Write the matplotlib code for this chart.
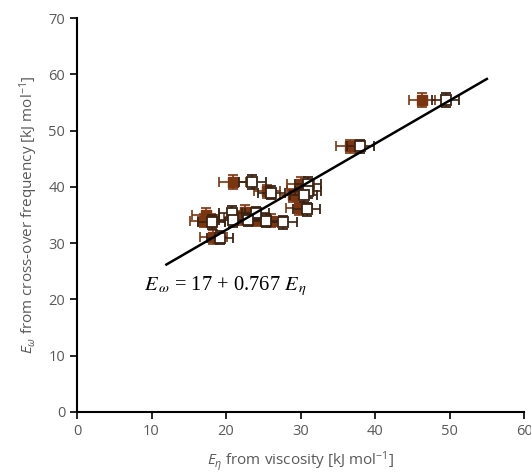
import matplotlib
matplotlib.use("Agg")
import matplotlib.pyplot as plt
import numpy as np

# Data
open_x = [49.5, 38.0, 23.5, 31.0, 26.1, 31.0, 30.4, 30.8, 27.7, 25.4, 24.0, 23.0, 20.8, 20.9, 18.1, 19.2]
open_y = [55.4, 47.2, 40.9, 40.6, 39.0, 39.3, 38.5, 36.0, 33.7, 34.0, 35.3, 34.2, 35.4, 34.1, 33.8, 31.0]
filled_x = [46.3, 36.6, 20.9, 30.0, 25.5, 30.0, 29.0, 29.8, 26.0, 24.0, 22.5, 21.5, 17.3, 18.0, 17.0, 18.3]
filled_y = [55.4, 47.2, 40.9, 40.6, 39.2, 39.5, 38.5, 36.2, 34.0, 34.2, 35.5, 34.5, 35.0, 34.0, 34.0, 31.1]
x_err = 1.8
y_err = 1.2
fit_intercept = 17.0
fit_slope = 0.767
fit_range = [12, 55]

xticks = [0, 10, 20, 30, 40, 50, 60]
yticks = [0, 10, 20, 30, 40, 50, 60, 70]

plt.rcParams['font.family'] = ['Open Sans', 'DejaVu Sans']
plt.rcParams['mathtext.fontset'] = 'custom'
plt.rcParams['mathtext.rm'] = 'Open Sans'
plt.rcParams['mathtext.it'] = 'Open Sans:italic'

fig = plt.figure(figsize=(5.31, 4.76), dpi=100)
ax = fig.add_axes([0.145, 0.1345, 0.842, 0.8275])

brown = '#7b3510'
dark = '#3b2212'

ax.errorbar(filled_x, filled_y, xerr=x_err, yerr=y_err, fmt='s', color=brown,
            ecolor=brown, elinewidth=1.2, capsize=3.5, capthick=1.2,
            markersize=7, markerfacecolor=brown, markeredgecolor=brown, zorder=3)
ax.errorbar(open_x, open_y, xerr=x_err, yerr=y_err, fmt='s', color=dark,
            ecolor=dark, elinewidth=1.2, capsize=3.5, capthick=1.2,
            markersize=7, markerfacecolor='white', markeredgecolor=dark,
            markeredgewidth=1.3, zorder=4)

lx = np.array(fit_range, dtype=float)
ax.plot(lx, fit_intercept + fit_slope * lx, color='black', linewidth=1.8, zorder=5)

ax.text(9.0, 22.3, r"$E_{\,\omega}$ = 17 + 0.767 $E_{\,\eta}$", fontsize=14.8,
        family='Liberation Serif', math_fontfamily='stix', va='center', ha='left',
        color='black')

ax.set_xlim(0, 60)
ax.set_ylim(0, 70)
ax.set_xticks(xticks)
ax.set_yticks(yticks)
for s in ['top', 'right']:
    ax.spines[s].set_visible(False)
for s in ['left', 'bottom']:
    ax.spines[s].set_linewidth(1.5)
ax.tick_params(axis='both', direction='out', length=5, width=1.2, labelsize=10.5,
               labelcolor='#595959', color='black')

ax.set_xlabel(r"$\mathit{E}_\eta$ from viscosity [kJ mol$^{\mathregular{-1}}$]",
              fontsize=11, color='#595959', labelpad=8)
ax.set_ylabel(r"$\mathit{E}_\omega$ from cross-over frequency [kJ mol$^{\mathregular{-1}}$]",
              fontsize=11, color='#595959', labelpad=6)

fig.savefig('out.png', dpi=100)
